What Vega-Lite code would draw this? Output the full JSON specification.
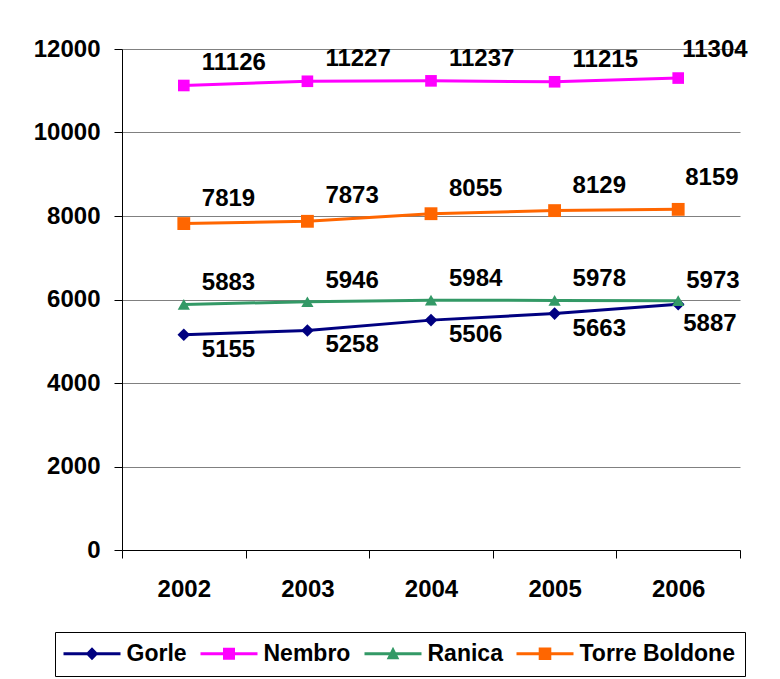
{
  "$schema": "https://vega.github.io/schema/vega-lite/v6.json",
  "width": 618,
  "height": 501,
  "autosize": {"type": "none"},
  "padding": {"left": 122, "top": 49, "right": 40, "bottom": 129},
  "background": "white",
  "config": {"view": {"stroke": null}, "font": "Liberation Sans"},
  "data": {
    "values": [
      {"series": "Gorle", "year": "2002", "value": 5155},
      {"series": "Gorle", "year": "2003", "value": 5258},
      {"series": "Gorle", "year": "2004", "value": 5506},
      {"series": "Gorle", "year": "2005", "value": 5663},
      {"series": "Gorle", "year": "2006", "value": 5887},
      {"series": "Nembro", "year": "2002", "value": 11126},
      {"series": "Nembro", "year": "2003", "value": 11227},
      {"series": "Nembro", "year": "2004", "value": 11237},
      {"series": "Nembro", "year": "2005", "value": 11215},
      {"series": "Nembro", "year": "2006", "value": 11304},
      {"series": "Ranica", "year": "2002", "value": 5883},
      {"series": "Ranica", "year": "2003", "value": 5946},
      {"series": "Ranica", "year": "2004", "value": 5984},
      {"series": "Ranica", "year": "2005", "value": 5978},
      {"series": "Ranica", "year": "2006", "value": 5973},
      {"series": "Torre Boldone", "year": "2002", "value": 7819},
      {"series": "Torre Boldone", "year": "2003", "value": 7873},
      {"series": "Torre Boldone", "year": "2004", "value": 8055},
      {"series": "Torre Boldone", "year": "2005", "value": 8129},
      {"series": "Torre Boldone", "year": "2006", "value": 8159}
    ]
  },
  "encoding": {
    "x": {
      "field": "year", "type": "ordinal",
      "scale": {"type": "band", "paddingInner": 0, "paddingOuter": 0},
      "axis": {"title": null, "labelAngle": 0, "tickBand": "extent", "domainColor": "black", "tickColor": "black", "tickSize": 8, "labelFontSize": 24, "labelFontWeight": "bold", "labelColor": "black", "labelPadding": 19, "grid": false, "labelFont": "Liberation Sans"}
    },
    "y": {
      "field": "value", "type": "quantitative",
      "scale": {"domain": [0, 12000], "nice": false},
      "axis": {"title": null, "values": [0, 2000, 4000, 6000, 8000, 10000, 12000], "format": "d", "domainColor": "black", "tickColor": "black", "tickSize": 8, "grid": true, "gridColor": "#808080", "gridOpacity": 1, "labelFontSize": 24, "labelFontWeight": "bold", "labelColor": "black", "labelPadding": 14, "labelFont": "Liberation Sans"}
    },
    "color": {
      "field": "series", "type": "nominal",
      "scale": {"domain": ["Gorle", "Nembro", "Ranica", "Torre Boldone"], "range": ["#000080", "#FF00FF", "#339966", "#FF6600"]},
      "legend": {"title": null, "orient": "none", "legendX": -67, "legendY": 583, "direction": "horizontal", "strokeColor": "black", "fillColor": "white", "padding": 10, "columnPadding": 13, "labelOffset": 23, "symbolOffset": 15.5, "symbolSize": 144, "symbolOpacity": 1, "symbolStrokeWidth": 0, "labelFont": "Liberation Sans", "labelFontSize": 23, "labelFontWeight": "bold", "labelColor": "black", "labelLimit": 300}
    }
  },
  "layer": [
    {"mark": {"type": "line", "strokeWidth": 3}},
    {"transform": [{"filter": "datum.series === 'Gorle'"}], "mark": {"type": "point", "shape": "diamond", "filled": true, "size": 160, "opacity": 1}},
    {"transform": [{"filter": "datum.series === 'Nembro'"}], "mark": {"type": "point", "shape": "square", "filled": true, "size": 135, "opacity": 1}},
    {"transform": [{"filter": "datum.series === 'Ranica'"}], "mark": {"type": "point", "shape": "triangle-up", "filled": true, "size": 150, "opacity": 1}},
    {"transform": [{"filter": "datum.series === 'Torre Boldone'"}], "mark": {"type": "point", "shape": "square", "filled": true, "size": 165, "opacity": 1}},
    {
      "mark": {"type": "point", "filled": true, "opacity": 0},
      "encoding": {
        "shape": {
          "field": "series", "type": "nominal",
          "scale": {"domain": ["Gorle", "Nembro", "Ranica", "Torre Boldone"], "range": [
            "M-4.75,-0.25H4.75V0.25H-4.75Z M0,-1.1L1.05,0L0,1.1L-1.05,0Z",
            "M-4.75,-0.25H4.75V0.25H-4.75Z M-1,-1H1V1H-1Z",
            "M-4.75,-0.25H4.75V0.25H-4.75Z M0,-1.15L1.05,0.9H-1.05Z",
            "M-4.75,-0.25H4.75V0.25H-4.75Z M-1.05,-1.05H1.05V1.05H-1.05Z"
          ]},
          "legend": {"title": null, "orient": "none", "legendX": -67, "legendY": 583, "direction": "horizontal", "strokeColor": "black", "fillColor": "white", "padding": 10, "columnPadding": 13, "labelOffset": 23, "symbolOffset": 15.5, "symbolSize": 144, "symbolOpacity": 1, "symbolStrokeWidth": 0, "labelFont": "Liberation Sans", "labelFontSize": 23, "labelFontWeight": "bold", "labelColor": "black", "labelLimit": 300}
        }
      }
    },
    {"transform": [{"filter": "datum.series === 'Nembro' && datum.year !== '2006'"}], "mark": {"type": "text", "align": "left", "baseline": "middle", "dx": 18, "dy": -22, "fontSize": 24, "fontWeight": "bold", "font": "Liberation Sans"}, "encoding": {"text": {"field": "value", "type": "quantitative", "format": "d"}, "color": {"value": "black"}}},
    {"transform": [{"filter": "datum.series === 'Nembro' && datum.year === '2006'"}], "mark": {"type": "text", "align": "left", "baseline": "middle", "dx": 4, "dy": -28, "fontSize": 24, "fontWeight": "bold", "font": "Liberation Sans"}, "encoding": {"text": {"field": "value", "type": "quantitative", "format": "d"}, "color": {"value": "black"}}},
    {"transform": [{"filter": "datum.series === 'Torre Boldone' && datum.year !== '2006'"}], "mark": {"type": "text", "align": "left", "baseline": "middle", "dx": 18, "dy": -25, "fontSize": 24, "fontWeight": "bold", "font": "Liberation Sans"}, "encoding": {"text": {"field": "value", "type": "quantitative", "format": "d"}, "color": {"value": "black"}}},
    {"transform": [{"filter": "datum.series === 'Torre Boldone' && datum.year === '2006'"}], "mark": {"type": "text", "align": "left", "baseline": "middle", "dx": 7, "dy": -31, "fontSize": 24, "fontWeight": "bold", "font": "Liberation Sans"}, "encoding": {"text": {"field": "value", "type": "quantitative", "format": "d"}, "color": {"value": "black"}}},
    {"transform": [{"filter": "datum.series === 'Ranica' && datum.year !== '2006'"}], "mark": {"type": "text", "align": "left", "baseline": "middle", "dx": 18, "dy": -21, "fontSize": 24, "fontWeight": "bold", "font": "Liberation Sans"}, "encoding": {"text": {"field": "value", "type": "quantitative", "format": "d"}, "color": {"value": "black"}}},
    {"transform": [{"filter": "datum.series === 'Ranica' && datum.year === '2006'"}], "mark": {"type": "text", "align": "left", "baseline": "middle", "dx": 8, "dy": -20, "fontSize": 24, "fontWeight": "bold", "font": "Liberation Sans"}, "encoding": {"text": {"field": "value", "type": "quantitative", "format": "d"}, "color": {"value": "black"}}},
    {"transform": [{"filter": "datum.series === 'Gorle' && datum.year !== '2006'"}], "mark": {"type": "text", "align": "left", "baseline": "middle", "dx": 18, "dy": 15, "fontSize": 24, "fontWeight": "bold", "font": "Liberation Sans"}, "encoding": {"text": {"field": "value", "type": "quantitative", "format": "d"}, "color": {"value": "black"}}},
    {"transform": [{"filter": "datum.series === 'Gorle' && datum.year === '2006'"}], "mark": {"type": "text", "align": "left", "baseline": "middle", "dx": 5, "dy": 20, "fontSize": 24, "fontWeight": "bold", "font": "Liberation Sans"}, "encoding": {"text": {"field": "value", "type": "quantitative", "format": "d"}, "color": {"value": "black"}}}
  ]
}
